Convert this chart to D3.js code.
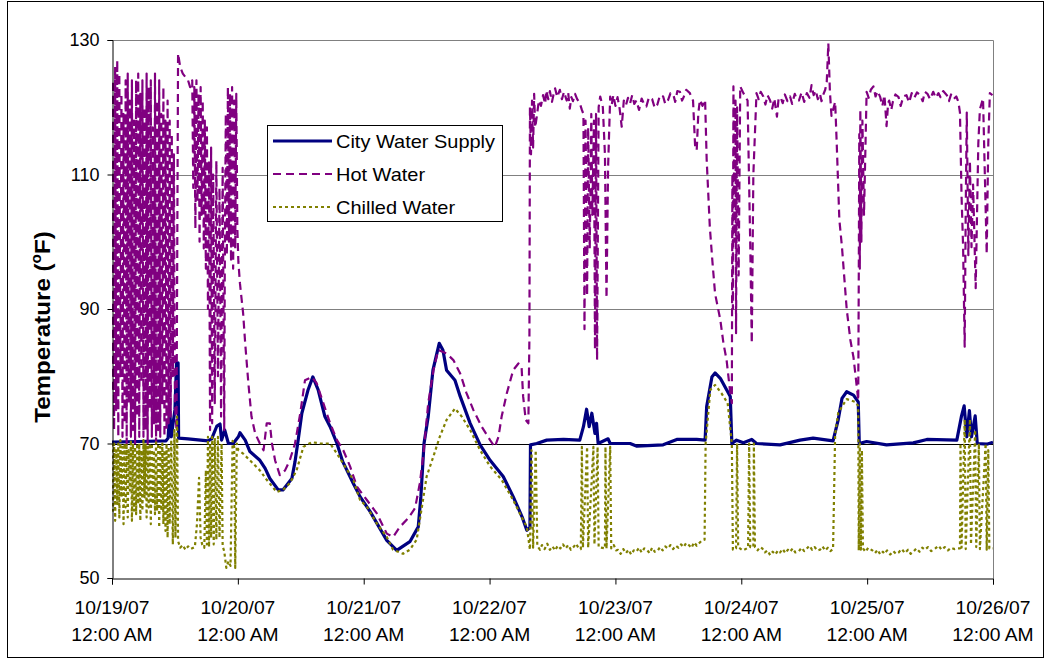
<!DOCTYPE html>
<html>
<head>
<meta charset="utf-8">
<script src="https://cdn.jsdelivr.net/npm/d3@7"></script>
<style>
  body { margin: 0; background: #fff; }
  svg { display: block; font-family: "Liberation Sans", Arial, sans-serif; }
</style>
</head>
<body>
<svg id="chart" width="1048" height="661"></svg>
<script>
// hours since 10/19/07 12:00 AM, temperature in F
const cityWater = [
  [0,70.2],[5,70.3],[10.3,70.4],[10.7,70.8],[11.0,75],[11.3,71],[12.0,75],[12.3,82],[12.6,82],[12.7,70.8],
  [14.5,70.7],[18.3,70.4],[19.0,70.7],[20.0,72.6],[20.6,72.9],[20.9,70.5],[21.5,72],[22.2,70],[23.1,70],
  [24.1,71],[24.4,71.6],[25.4,70.5],[26.3,68.8],[28.2,67.5],[29.2,66.3],[30.1,64.8],[31.7,63.1],[32.6,63.1],
  [34.3,64.8],[34.9,67.3],[35.5,70.5],[36.2,74.5],[37.4,78],[38.3,79.9],[39.3,78],[40.6,74],[41.6,72.5],
  [42.9,70],[44.0,67.3],[46.0,64.1],[47.3,62.1],[49.2,59.9],[52.4,55.6],[54.3,54.1],[56.8,55.4],[58.4,57.6],
  [58.9,62.1],[59.5,70],[60.3,74],[61.2,80.9],[62.4,84.9],[63.1,83.9],[63.8,80.9],[65.4,79.4],[66.4,77],
  [68.3,73],[70.2,69.8],[72.1,67.5],[74.6,65.1],[76.5,62.1],[78.2,59.1],[79.1,57.1],[79.7,57.5],[79.8,69.8],
  [81.0,70],[82.9,70.5],[86.1,70.6],[89.2,70.5],[89.9,72.5],[90.5,75.1],[91.0,72.5],[91.5,74.5],[92.1,71.5],
  [92.4,73],[92.7,70],[94.6,70.7],[95.0,70],[98.8,70],[100.1,69.6],[105.1,69.8],[107.7,70.6],[111.5,70.6],
  [113.1,70.5],[113.4,75.5],[114.4,79.9],[115.0,80.5],[116.0,79.7],[117.2,78],[117.9,77],[118.2,70],
  [119.1,70.5],[120.4,70.1],[122.0,70.6],[122.9,70],[127.4,69.8],[131.2,70.5],[133.7,70.8],[137.5,70.4],
  [138.5,73.6],[139.2,76.7],[140.1,77.7],[141.4,77.2],[142.3,76.2],[142.5,70],[143.9,70.3],[147.7,69.8],
  [152.8,70.1],[155.4,70.6],[161.1,70.5],[162.0,74.1],[162.5,75.6],[163.0,71],[163.5,74.9],[163.9,71],
  [164.6,74.1],[165.0,70],[166.8,69.9],[168,70.2]
];

const hotWater = [
  [0,78],[0.2,124],[0.4,72],[0.6,126],[0.8,75],[1.0,127],[1.2,71],[1.4,125],[1.6,80],[1.8,122],[2.0,71],
  [2.2,119],[2.4,73],[2.6,124],[2.8,70],[3.0,125],[3.2,76],[3.4,121],[3.6,71],[3.8,124],[4.0,72],[4.2,118],
  [4.4,70],[4.6,124],[4.8,74],[5.0,125],[5.2,71],[5.4,122],[5.6,79],[5.8,124],[6.0,71],[6.2,120],[6.4,72],
  [6.6,125],[6.8,70],[7.0,123],[7.2,75],[7.4,124],[7.6,71],[7.8,117],[8.0,73],[8.2,125],[8.4,70],[8.6,121],
  [8.8,72],[9.0,124],[9.2,71],[9.4,119],[9.6,76],[9.8,123],[10.0,71],[10.2,118],[10.4,72],[10.6,121],
  [10.8,73],[11.0,118],[11.2,74],[11.4,116],[11.6,80],[11.8,113],[12.0,76],[12.3,72],[12.6,128],[13.0,126],
  [13.5,125],[14.0,124.5],[14.5,124],[14.9,123],[15.3,124],[15.5,108],[15.7,123],[15.9,102],[16.1,124],
  [16.3,106],[16.5,122],[16.7,100],[16.9,123],[17.1,104],[17.3,121],[17.5,99],[17.7,118],[17.9,96],
  [18.1,117],[18.3,90],[18.5,112],[18.7,72],[18.9,114],[19.1,73],[19.3,110],[19.6,76],[19.9,112],[20.2,80],
  [20.5,108],[20.8,74],[21.1,111],[21.4,72],[21.5,95],[21.7,119],[21.9,98],[22.1,123],[22.3,100],[22.5,122],
  [22.7,97],[22.9,123],[23.1,96],[23.3,121],[23.5,99],[23.7,122],[23.9,102],[24.1,97],[24.4,93.8],
  [25.0,89.4],[25.4,84.9],[26.0,79],[26.6,74],[27.3,71.5],[28.2,70],[28.9,69],[29.5,73],[30.1,73],
  [30.5,70],[31.1,67.5],[32.0,65.3],[33.0,66],[33.9,67.5],[34.9,70],[35.9,74.5],[36.8,79.4],[38.1,79.9],
  [39.0,79],[40.3,76],[41.6,73],[42.9,70.5],[44.1,69],[45.4,66.6],[46.7,63.6],[48.6,61.6],[50.5,59.6],
  [52.4,56.6],[53.6,56.1],[54.9,57.6],[56.5,58.9],[57.8,60.4],[58.7,64.1],[59.4,68.5],[60.3,76],[61.3,80.9],
  [62.2,83.9],[63.8,83.4],[65.1,82.4],[66.4,80.4],[67.6,77.5],[68.9,75],[70.5,72.5],[72.1,70.5],[73.0,69.5],
  [73.7,71],[74.3,74],[75.3,77.5],[76.5,80.9],[77.5,81.9],[78.1,81.4],[78.4,77],[78.9,73.5],[79.4,73],
  [79.6,86],[79.7,120],[79.9,113],[80.1,121],[80.3,114],[80.5,122],[80.7,117],[81.0,118.6],[81.4,121],
  [81.8,120.2],[82.2,121.8],[82.6,120.5],[82.8,122.5],[83.2,121.2],[83.5,122.4],[83.9,120.8],[84.2,121.9],
  [84.5,122.8],[84.9,121.5],[85.4,122.6],[85.8,121.2],[86.2,122.3],[86.7,121.0],[87.0,122.1],[87.3,119.8],
  [87.6,121.5],[87.9,120.9],[88.3,122],[88.7,121.2],[89.2,120.6],[89.6,119.6],[89.9,119],[90.1,87],
  [90.3,118],[90.6,92],[90.8,117],[91.1,99],[91.4,119],[91.6,104],[91.9,118],[92.1,84],[92.3,119],[92.5,82.4],
  [92.8,120],[93.1,121.6],[93.6,120],[94.0,113],[94.3,91.6],[94.6,111],[95.0,121.6],[95.3,120.4],
  [95.6,121.8],[96.0,120.2],[96.4,121.5],[96.8,119.8],[97.2,117.1],[97.6,121],[98.0,120.3],[98.4,121.4],
  [98.8,120.6],[99.2,121.8],[99.6,120.5],[100,121],[100.5,119.6],[101,121.3],[101.5,120.4],[101.9,120.1],
  [102.4,121.5],[103,121.2],[103.5,119.9],[104,120.4],[104.5,121.8],[105.1,121.6],[105.5,120.5],[106,121],
  [106.5,122.1],[107,122],[107.4,120.8],[107.8,122.4],[108.3,122.3],[108.7,121],[109,121.5],[109.5,122.6],
  [110.2,122.1],[110.5,121.4],[110.8,121],[111.2,114.1],[111.5,113.6],[111.8,119],[112.1,121.1],
  [112.6,120.2],[113.1,121.1],[113.4,112.2],[114.0,102.2],[114.5,97],[115.0,92.3],[116.0,88.4],[116.6,84.9],
  [117.2,82.4],[117.9,77.5],[118.2,76],[118.3,110],[118.4,90],[118.5,123.1],[118.7,100],[118.9,121],
  [119.0,86.4],[119.2,120],[119.5,95],[119.8,123.1],[120.4,122.1],[121.2,121],[121.7,100],[122.0,84.9],
  [122.3,110],[122.9,122.1],[123.3,121.2],[123.7,122.3],[124.2,121.6],[124.6,120.4],[125.0,121.8],
  [125.5,121],[125.9,119.8],[126.3,121.3],[126.8,118.6],[127.1,121.2],[127.5,121.5],[127.9,120.6],
  [128.3,121.9],[128.8,120.9],[129.3,121.6],[129.7,120.5],[130.2,122],[130.6,121.1],[131,121],[131.5,122.2],
  [132,120.8],[132.5,122.1],[133,121.4],[133.4,123.3],[133.8,121.8],[134.2,122.5],[134.6,121.2],[135,122],
  [135.3,120.9],[135.6,121.8],[136.0,122.6],[136.3,123.8],[136.6,129.5],[136.9,122.3],[137.2,118.7],
  [137.9,120.8],[138.2,114.6],[138.7,103.3],[139.2,99.2],[140.1,90],[140.8,85.4],[141.4,82.8],[142.2,77.2],
  [142.3,76.4],[142.4,94],[142.5,116],[142.6,96],[142.7,119.7],[142.9,100],[143.1,118],[143.4,104],
  [143.9,122.3],[144.3,121.4],[144.7,122.6],[145.2,123.1],[145.6,121.6],[146.0,122.4],[146.5,121.5],
  [146.9,120.2],[147.3,121.8],[147.7,117.2],[148.0,120.6],[148.2,121],[148.6,119.6],[148.9,120.8],
  [149.4,121.9],[150,121.5],[150.4,120.2],[150.9,121.6],[151.5,121.8],[152,120.7],[152.5,122.1],[153,121.4],
  [153.5,122.2],[154.1,121.8],[154.6,120.9],[155,122.3],[155.5,122],[156,121.2],[156.6,122.3],[157.1,121.4],
  [157.6,122.1],[158,121.5],[158.5,122.4],[159.2,121.8],[159.6,120.9],[160,121.9],[160.5,121.2],[161,121.6],
  [161.4,120.8],[161.7,119.2],[162.0,106.9],[162.3,99.2],[162.6,84.4],[162.8,105],[163.0,119.2],[163.3,98],
  [163.6,112],[163.9,99.2],[164.2,108.5],[164.7,93.1],[165.2,114.6],[165.5,119.7],[166.1,121.3],
  [166.8,98.2],[167.1,114.6],[167.4,122.1],[167.9,121.8]
];

const chilledWater = [
  [0,70],[0.2,60],[0.4,70],[0.6,58.5],[0.8,69],[1.0,61],[1.2,70],[1.4,59],[1.6,70.5],[1.8,62],[2.0,69.5],
  [2.2,58],[2.4,70],[2.6,60.5],[2.8,70],[3.0,59],[3.2,69],[3.4,63],[3.6,70.5],[3.8,58.5],[4.0,70],[4.2,60],
  [4.4,69.5],[4.6,59.5],[4.8,70],[5.0,61],[5.2,70],[5.4,58.5],[5.6,69],[5.8,60],[6.0,70.5],[6.2,62],[6.4,70],
  [6.6,59],[6.8,69.5],[7.0,60.5],[7.2,70],[7.4,58],[7.6,70],[7.8,61],[8.0,69],[8.2,59.5],[8.4,70.5],[8.6,60],
  [8.8,70],[9.0,57.5],[9.2,69.5],[9.4,60],[9.6,70],[9.8,58],[10.0,69],[10.2,57],[10.4,70],[10.6,56],
  [10.8,69.5],[11.0,58],[11.3,70.5],[11.6,55],[11.9,72],[12.1,56],[12.4,74],[12.6,55.5],[13.0,54.5],
  [13.5,54.9],[14.0,54.2],[14.5,54.7],[15.0,54.3],[15.8,54.6],[16.2,58],[16.6,64.9],[16.9,56],[17.2,55],
  [17.6,54.5],[17.9,66],[18.1,55],[18.3,71],[18.5,54.6],[18.7,70],[18.9,56],[19.1,71],[19.4,55],[19.6,70.8],
  [19.9,55.7],[20.2,71],[20.5,56],[20.9,70],[21.1,54.7],[21.4,54],[21.8,51.5],[22.2,52.5],[22.6,51.8],
  [23.0,70.4],[23.3,69.5],[23.5,51.5],[23.8,70],[24.1,69],[25.0,68.5],[26.3,67.5],[28.2,66],[29.5,64.6],
  [31.4,62.8],[32.6,63.1],[33.9,64.1],[35.2,66],[36.5,69.5],[38.1,70.2],[39.7,70],[41.6,70],[42.9,68.5],
  [44.1,67],[46.0,64.6],[47.3,61.6],[48.6,60.6],[50.5,58.1],[52.4,56.1],[53.6,54.2],[55.5,53.6],[56.8,54.2],
  [58.1,55.7],[59.0,60.1],[60.0,65.1],[61.3,68.1],[62.5,71],[63.8,73.5],[65.4,75.2],[66.7,74],[68.3,72],
  [70.2,69],[72.1,66.6],[74.3,64.6],[76.5,61.6],[78.1,59.1],[79.1,57.6],[79.7,54.2],[80.0,69],[80.3,54.5],
  [80.8,69],[81.1,54.8],[81.6,54.2],[82,54.9],[82.5,54.3],[83,55.1],[83.5,54.2],[84,54.7],[84.5,54.1],
  [85,54.8],[85.5,54.4],[86,55],[86.5,54.4],[87,54.9],[87.5,54.2],[88,54.6],[88.5,55.1],[89,54.4],
  [89.4,54.3],[89.6,69.5],[89.8,54.5],[90.6,69.5],[90.8,54.5],[91.8,69.5],[92.0,55],[92.6,69.5],[92.8,54.6],
  [94.0,54.4],[94.1,69.5],[94.3,54.4],[95.0,69.5],[95.2,54.4],[95.7,54.9],[96.1,54.1],[96.5,54.2],[97,53.6],
  [97.5,54.3],[98,53.7],[98.5,54.2],[99,53.5],[99.5,54.1],[100,53.9],[100.5,54.5],[101,53.8],[101.5,54.4],
  [102,54.2],[102.5,53.7],[103,54.5],[103.5,53.9],[104,54],[104.5,54.6],[105,54.1],[105.5,54.7],[106,54.4],
  [106.5,54.9],[107,54.3],[107.5,54.8],[108,54.5],[108.5,55],[109,54.6],[109.5,55.2],[110,54.9],[110.5,54.5],
  [111,55.3],[111.5,54.8],[112,55.2],[112.5,55.6],[113.0,55.7],[113.2,70],[114.1,78],[115.0,78.7],
  [116.2,77.5],[117.4,76],[118.2,70],[118.4,54.2],[119.0,54.4],[119.2,70],[119.4,54.6],[120.3,54.1],
  [121.3,54.5],[121.5,70],[121.7,54.6],[122.3,54.6],[122.4,70],[122.6,54.6],[123.1,54.1],[123.6,54.6],
  [124,54.4],[124.5,53.8],[125,54.1],[125.5,53.4],[126,53.9],[126.5,53.5],[127,54.1],[127.4,53.8],
  [127.9,54.3],[128.4,53.7],[128.9,54.2],[129.3,53.9],[129.8,54.4],[130.3,53.8],[131,54],[131.5,54.5],
  [132,54],[132.5,54.4],[133,54.8],[133.5,54.2],[134,54.6],[134.5,54.1],[135,54.2],[135.5,54.7],[136,54.1],
  [136.5,54.5],[137,54],[137.5,54.3],[137.9,71.4],[138.5,74.6],[140.1,76.6],[141.7,76.2],[142.3,75.6],
  [142.4,54.1],[142.6,70],[142.8,54.2],[143.0,69],[143.2,54.4],[143.7,53.9],[144.2,54.5],[145,54.1],
  [145.5,53.7],[146,54.2],[146.5,53.5],[147,53.9],[147.3,53.6],[147.8,54.1],[148.4,53.5],[149,54],
  [149.5,53.6],[150,53.8],[150.6,54.3],[151.2,53.7],[151.8,54.2],[152.3,53.6],[152.8,53.9],[153.4,54.4],
  [154,53.9],[154.5,54.5],[155,54.2],[155.6,54.6],[156.2,54],[157,54.4],[157.6,54.8],[158.2,54.2],
  [158.8,54.6],[159.4,54.1],[160,54.5],[160.6,54.3],[161.1,54.4],[161.7,54.4],[161.8,70],[162.0,54.5],
  [162.6,73.6],[162.8,54.3],[163.6,73.6],[163.8,55],[164.6,72],[164.8,54.6],[165.3,70],[165.5,54.3],
  [166.6,70],[166.8,54.2],[167.1,69],[167.3,54.4],[168,54.4]
];

const yTicks = [50, 70, 90, 110, 130];
const gridValues = [70, 90, 110];
const seriesNames = ["City Water Supply", "Hot Water", "Chilled Water"];

const startDate = new Date(2007, 9, 19);
const endDate = new Date(2007, 9, 26);
const toDate = h => new Date(startDate.getTime() + h * 3600 * 1000);

const svg = d3.select("#chart");

// outer chart border
svg.append("rect")
    .attr("x", 7.5).attr("y", 1.5)
    .attr("width", 1036).attr("height", 656)
    .attr("fill", "#fff").attr("stroke", "#000").attr("stroke-width", 1);

const plot = {left: 112, right: 993, top: 40, bottom: 578};

// scales
const x = d3.scaleTime().domain([startDate, endDate]).range([plot.left, plot.right]);
const y = d3.scaleLinear().domain([50, 130]).range([plot.bottom, plot.top]);

// gridlines
svg.append("g").selectAll("line")
    .data(gridValues).enter()
    .append("line")
    .attr("x1", plot.left).attr("x2", plot.right)
    .attr("y1", d => Math.round(y(d)) + 0.5).attr("y2", d => Math.round(y(d)) + 0.5)
    .attr("stroke", d => d === 70 ? "#000" : "#808080")
    .attr("stroke-width", 1);

// top / right plot border
svg.append("path")
    .attr("d", `M${plot.left},${plot.top + 0.5}H${plot.right + 0.5}V${plot.bottom}`)
    .attr("fill", "none").attr("stroke", "#808080");

svg.append("clipPath").attr("id", "clip")
    .append("rect")
    .attr("x", plot.left).attr("y", plot.top - 2)
    .attr("width", plot.right - plot.left).attr("height", plot.bottom - plot.top + 2);

const line = d3.line().x(d => x(toDate(d[0]))).y(d => y(d[1]));
const series = [
    {name: seriesNames[0], data: cityWater, color: "#000080", width: 3.2, dash: null},
    {name: seriesNames[1], data: hotWater, color: "#800080", width: 2.2, dash: "8,5"},
    {name: seriesNames[2], data: chilledWater, color: "#808000", width: 2.2, dash: "3,3"}
];

const lines = svg.append("g").attr("clip-path", "url(#clip)");
series.forEach(s => {
    lines.append("path")
        .datum(s.data)
        .attr("d", line)
        .attr("fill", "none")
        .attr("stroke", s.color)
        .attr("stroke-width", s.width)
        .attr("stroke-linejoin", "round")
        .attr("stroke-dasharray", s.dash);
});

// axis_y
const axisY = svg.append("g")
    .attr("transform", `translate(${plot.left + 0.5},0)`)
    .call(d3.axisLeft(y).tickValues(yTicks).tickSize(5).tickPadding(8));
axisY.select(".domain").attr("stroke", "#000");
axisY.selectAll(".tick line").attr("stroke", "#000");
axisY.selectAll(".tick text")
    .attr("font-size", 18).attr("font-family", "'Liberation Sans', Arial, sans-serif").attr("fill", "#000");

// axis_x
const axisX = svg.append("g")
    .attr("transform", `translate(0,${plot.bottom + 0.5})`)
    .call(d3.axisBottom(x).ticks(d3.timeDay.every(1)).tickSize(6).tickFormat(""));
axisX.select(".domain").attr("stroke", "#000");
axisX.selectAll(".tick line").attr("stroke", "#000");

const fmtDate = d3.timeFormat("%m/%d/%y");
const xLabels = svg.append("g")
    .attr("font-size", 18).attr("text-anchor", "middle").attr("fill", "#000");
xLabels.selectAll("g")
    .data(d3.timeDay.range(startDate, d3.timeDay.offset(endDate, 1))).enter()
    .append("g")
    .attr("transform", d => `translate(${x(d)},0) scale(1.07,1)`)
    .call(g => {
        g.append("text").attr("y", 614).text(d => fmtDate(d));
        g.append("text").attr("y", 641).text("12:00 AM");
    });

// axis title
const title = svg.append("text")
    .attr("transform", "translate(50,327) rotate(-90) scale(1.1,1)")
    .attr("text-anchor", "middle")
    .attr("font-size", 22).attr("font-weight", "bold").attr("fill", "#000");
title.append("tspan").text("Temperature (");
title.append("tspan").attr("font-size", 14).attr("dy", -9).text("o");
title.append("tspan").attr("dy", 9).text("F)");

// legend
const legend = svg.append("g");
legend.append("rect")
    .attr("x", 267.5).attr("y", 125.5).attr("width", 235).attr("height", 96)
    .attr("fill", "#fff").attr("stroke", "#000");
const rowY = [141, 174, 207];
series.forEach((s, i) => {
    legend.append("line")
        .attr("x1", 273).attr("x2", 332)
        .attr("y1", rowY[i]).attr("y2", rowY[i])
        .attr("stroke", s.color).attr("stroke-width", s.width)
        .attr("stroke-dasharray", s.dash);
    legend.append("text")
        .attr("transform", `translate(336,${rowY[i] + 6.5}) scale(1.11,1)`)
        .attr("font-size", 18).attr("fill", "#000")
        .text(s.name);
});
</script>
</body>
</html>
